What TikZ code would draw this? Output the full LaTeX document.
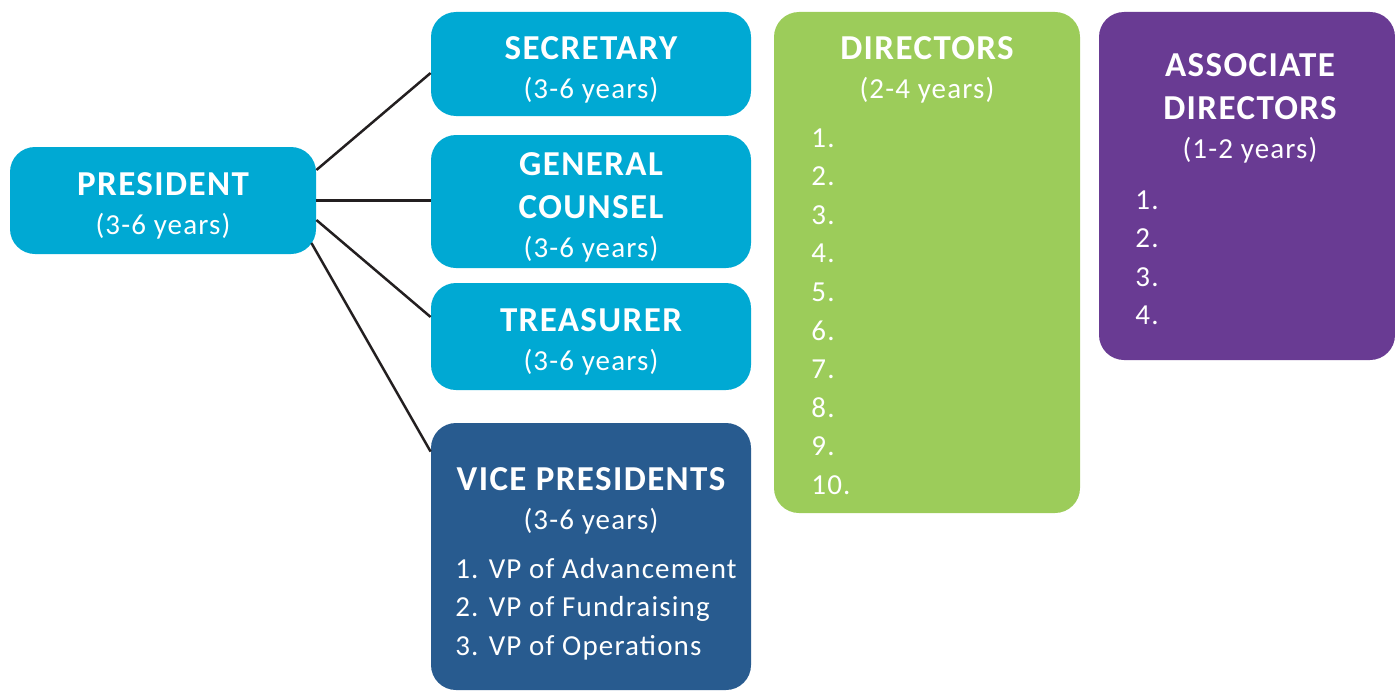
\documentclass[tikz,border=0pt]{standalone}
\usepackage{fontspec}
\setmainfont{Carlito}[LetterSpace=4]
\definecolor{cyanbox}{HTML}{00A9D3}
\definecolor{navybox}{HTML}{285B8F}
\definecolor{greenbox}{HTML}{9CCC5A}
\definecolor{purplebox}{HTML}{693B93}
\definecolor{linecol}{HTML}{231F20}
\newcommand{\boxhead}[1]{{\bfseries\fontsize{17.5}{20}\selectfont #1}}
\begin{document}
\begin{tikzpicture}[x=.5pt,y=-.5pt,
	box/.style={fill=#1,rounded corners=12.5pt,inner sep=0pt},
	words/.style={inner sep=0pt,text=white,align=center,font=\fontsize{14.5}{19.5}\selectfont},
	link/.style={draw=linecol,line width=1.25pt}]
	\useasboundingbox(0,0)rectangle(1395,690);
	% president and officers
	\node[box=cyanbox,minimum width=153pt,minimum height=53.5pt](pres)at(163,200.5){};
	\node[words](prestext)at(163,206){\boxhead{PRESIDENT}\\(3-6 years)};
	\node[box=cyanbox,minimum width=160pt,minimum height=52pt](sec)at(591,64){};
	\node[words](sectext)at(591,69.5){\boxhead{SECRETARY}\\(3-6 years)};
	\node[box=cyanbox,minimum width=160pt,minimum height=66.5pt](gc)at(591,201.5){};
	\node[words](gctext)at(591,207){\boxhead{GENERAL}\\[2pt]\boxhead{COUNSEL}\\(3-6 years)};
	\node[box=cyanbox,minimum width=160pt,minimum height=53.5pt](tre)at(591,336.5){};
	\node[words](tretext)at(591,342){\boxhead{TREASURER}\\(3-6 years)};
	\node[box=navybox,minimum width=160pt,minimum height=133.5pt](vp)at(591,556.5){};
	\node[words,anchor=north](vphead)at(591,467){\boxhead{VICE PRESIDENTS}\\(3-6 years)};
	\foreach \t[count=\i] in {Advancement,Fundraising,Operations}{
		\node[words,anchor=base west](vp\i)at(455,{578+38.5*(\i-1)}){\i. VP of \t};
	}
	% directors
	\node[box=greenbox,minimum width=153pt,minimum height=250.5pt](dir)at(927,262.5){};
	\node[words,anchor=north](dirhead)at(927,36){\boxhead{DIRECTORS}\\(2-4 years)};
	\foreach \i in {1,...,10}{
		\node[words,anchor=base west](dir\i)at(811,{147+38.6*(\i-1)}){\i.};
	}
	% associate directors
	\node[box=purplebox,minimum width=148pt,minimum height=174pt](assoc)at(1247,186){};
	\node[words,anchor=north](assochead)at(1250,53){\boxhead{ASSOCIATE}\\[2pt]\boxhead{DIRECTORS}\\(1-2 years)};
	\foreach \i in {1,...,4}{
		\node[words,anchor=base west](assoc\i)at(1135,{209+38.6*(\i-1)}){\i.};
	}
	% links
	\draw[link]([yshift=15.25pt]pres.east)--([yshift=-4.5pt]sec.west);
	\draw[link](pres.east)--(pres.east-|gc.west);
	\draw[link]([yshift=-9.75pt]pres.east)--([yshift=9.75pt]tre.west);
	\draw[link]([xshift=-2.5pt,yshift=-21.25pt]pres.east)--([yshift=-14.5pt]vp.north west);
\end{tikzpicture}
\end{document}
